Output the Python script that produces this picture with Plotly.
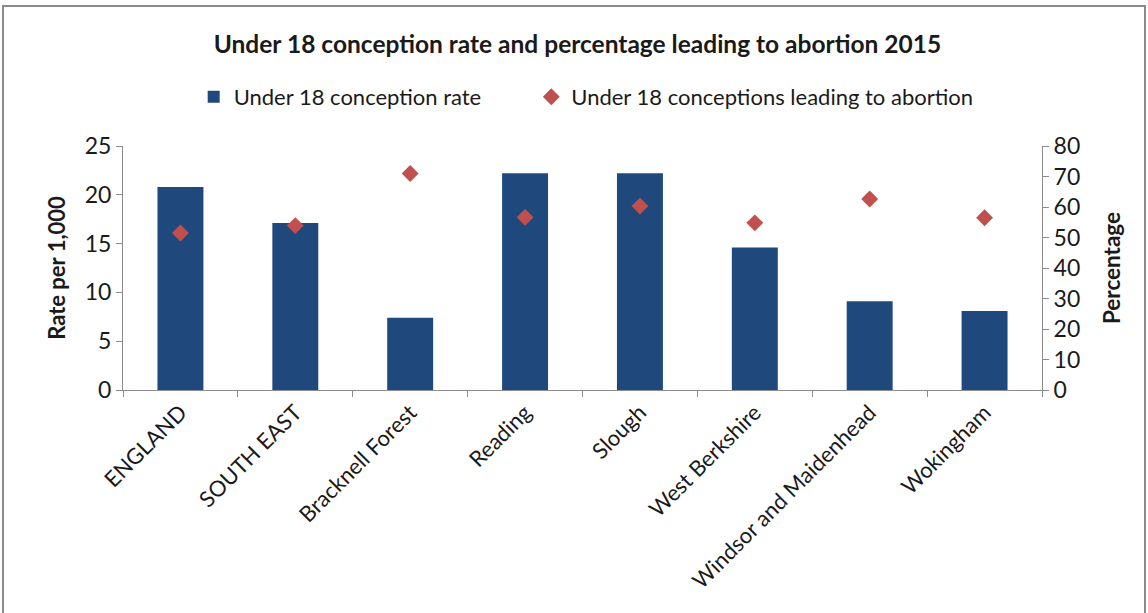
import plotly.graph_objects as go

# Local authorities and comparators
areas = ["ENGLAND", "SOUTH EAST", "Bracknell Forest", "Reading", "Slough",
         "West Berkshire", "Windsor and Maidenhead", "Wokingham"]

# Under 18 conceptions per 1,000 females aged 15-17
conception_rate = [20.8, 17.1, 7.4, 22.2, 22.2, 14.6, 9.1, 8.1]

# Percentage of under 18 conceptions leading to abortion
abortion_pct = [51.5, 53.9, 71.0, 56.6, 60.3, 54.8, 62.6, 56.5]

FONT = "Lato, 'Open Sans', Arial, sans-serif"
TXT = "#1a1a1a"
AX = "#8c8c8c"
PAD = "\u00a0" * 8  # extra room between the two legend entries

fig = go.Figure()
fig.add_trace(go.Bar(
    x=areas, y=conception_rate, name="Under 18 conception rate" + PAD,
    marker=dict(color="#1F497D", line=dict(width=0)),
    yaxis="y",
))
fig.add_trace(go.Scatter(
    x=areas, y=abortion_pct, name="Under 18 conceptions leading to abortion",
    mode="markers",
    marker=dict(symbol="diamond", size=13, color="#C0504D"),
    yaxis="y2",
))

# plot-area geometry in pixels
L, R, T, B = 123, 1042, 146, 390
W, H = R - L, B - T
def px_x(p): return (p - L) / W
def px_y(p): return (B - p) / H

fig.update_layout(
    width=1148, height=613,
    margin=dict(l=L, r=1148 - R, t=T, b=613 - B),
    paper_bgcolor="white", plot_bgcolor="white",
    font=dict(family=FONT, size=21, color=TXT),
    bargap=0.6,
    showlegend=True,
    title=dict(
        text="<b>Under 18 conception rate and percentage leading to abortion 2015</b>",
        x=0.503, xanchor="center", y=1 - 44 / 613, yanchor="middle",
        font=dict(size=24.5, color=TXT, family=FONT),
    ),
    legend=dict(
        orientation="h", x=0.504, xanchor="center", y=px_y(97), yanchor="middle",
        font=dict(size=22, color=TXT), itemwidth=30, traceorder="normal",
        bgcolor="rgba(0,0,0,0)",
    ),
    xaxis=dict(
        showline=True, linecolor=AX, linewidth=1,
        ticks="outside", tickson="boundaries", ticklen=6, tickcolor=AX,
        tickangle=-45, tickfont=dict(size=22, color=TXT),
        showgrid=False,
    ),
    yaxis=dict(
        range=[0, 25], dtick=5, showline=True, linecolor=AX, linewidth=1,
        ticks="outside", ticklen=6, tickcolor=AX, showgrid=False, zeroline=False,
        tickfont=dict(size=23, color=TXT),
        title=dict(text="<b>Rate per 1,000</b>", font=dict(size=22, color=TXT), standoff=13),
    ),
    yaxis2=dict(
        range=[0, 80], dtick=10, overlaying="y", side="right",
        showline=True, linecolor=AX, linewidth=1,
        ticks="outside", ticklen=6, tickcolor=AX, showgrid=False, zeroline=False,
        tickfont=dict(size=23, color=TXT),
        title=dict(text="<b>Percentage</b>", font=dict(size=22.5, color=TXT), standoff=24),
    ),
    shapes=[dict(
        type="rect", xref="paper", yref="paper",
        x0=px_x(3), x1=px_x(1145), y0=px_y(640), y1=px_y(6),
        line=dict(color="#8a8a8a", width=2), fillcolor="rgba(0,0,0,0)", layer="below",
    )],
)

fig.write_html("out.html")
